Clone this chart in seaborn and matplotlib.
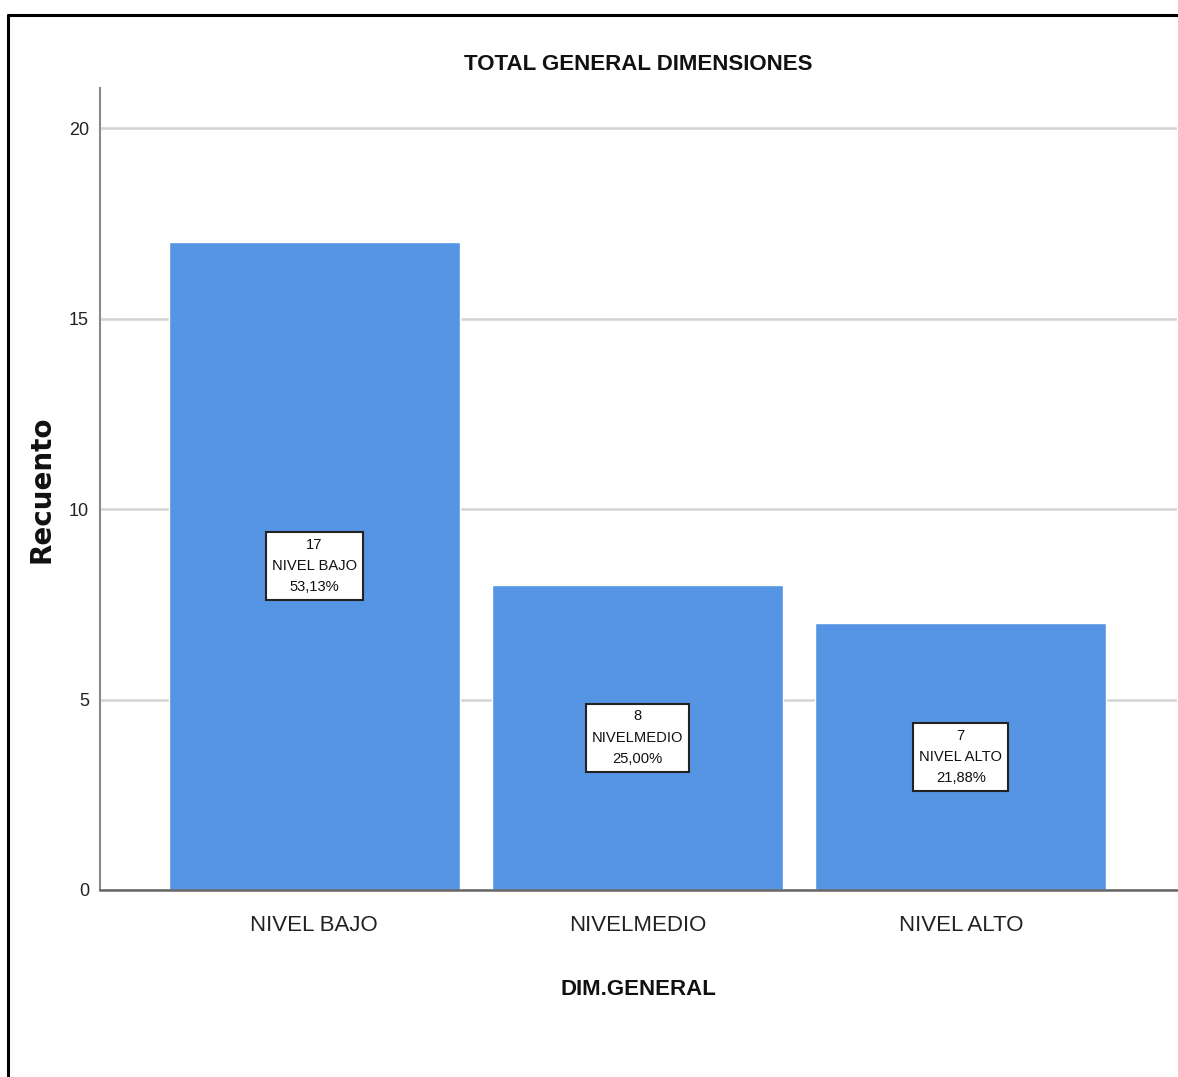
import numpy as np
import pandas as pd
import seaborn as sns
import matplotlib.pyplot as plt
from matplotlib.lines import Line2D

# data
categorias = ["NIVEL BAJO", "NIVELMEDIO", "NIVEL ALTO"]
recuento = [17, 8, 7]
porcentajes = ["53,13%", "25,00%", "21,88%"]
y_ticks = [0, 5, 10, 15, 20]

sns.set_theme(style="white")
plt.rcParams['font.family'] = ['Liberation Sans', 'DejaVu Sans']

df = pd.DataFrame({"cat": categorias, "n": recuento})

fig = plt.figure(figsize=(11.78, 10.77), dpi=100)
ax = fig.add_axes([100 / 1178, 187 / 1077, 1077 / 1178, 802 / 1077])

ax.set_axisbelow(True)
ax.yaxis.grid(True, color="#d4d4d4", linewidth=1.8)
sns.barplot(data=df, x="cat", y="n", color="#5595e4", saturation=1,
            width=0.9, ax=ax, zorder=2)

ax.set_xlim(-0.663, 2.669)
ax.set_ylim(0, 21.05)
ax.set_yticks(y_ticks)

for spine in ["top", "right"]:
    ax.spines[spine].set_visible(False)
ax.spines["left"].set_color("#8a8a8a")
ax.spines["left"].set_linewidth(1.5)
ax.spines["bottom"].set_color("#666666")
ax.spines["bottom"].set_linewidth(1.8)

ax.tick_params(axis="y", length=0, pad=8, labelsize=13, labelcolor="#222222")
ax.tick_params(axis="x", length=0, pad=18, labelsize=16, labelcolor="#222222")

ax.set_title("TOTAL GENERAL DIMENSIONES", fontsize=16, fontweight="bold",
             pad=13, color="#111111")
ax.set_xlabel("DIM.GENERAL", fontsize=16, fontweight="bold", labelpad=31,
              color="#111111")
ax.set_ylabel("Recuento", fontsize=20, fontweight="bold",
              family=['DejaVu Sans'], color="#111111")
ax.yaxis.set_label_coords(-44 / 1077, 0.5)

# value boxes in the middle of each bar
for bar, cat, n, pct in zip(ax.patches, categorias, recuento, porcentajes):
    xc = bar.get_x() + bar.get_width() / 2
    ax.text(xc, bar.get_height() / 2, f"{n}\n{cat}\n{pct}",
            ha="center", va="center", fontsize=10.6, linespacing=1.65,
            color="#111111", zorder=5,
            bbox=dict(boxstyle="square,pad=0.4", facecolor="white",
                      edgecolor="#222222", linewidth=1.5))

# outer frame (left and top edges visible in the reference)
fig.add_artist(Line2D([0.0072, 0.0072], [0, 0.986], transform=fig.transFigure,
                      color="black", linewidth=2.2))
fig.add_artist(Line2D([0.0072, 1.0], [0.986, 0.986], transform=fig.transFigure,
                      color="black", linewidth=2.2))

plt.savefig("out.png", dpi=100)
plt.close()
